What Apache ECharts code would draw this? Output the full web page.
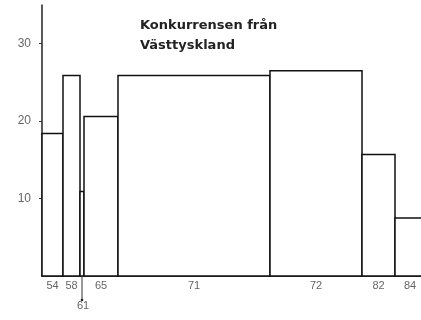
<!DOCTYPE html>
<html>
<head>
<meta charset="utf-8">
<script src="https://cdn.jsdelivr.net/npm/echarts@6/dist/echarts.min.js"></script>
<style>
  html, body { margin: 0; padding: 0; background: #fff; }
  #chart { width: 421px; height: 320px; }
</style>
</head>
<body>
<div id="chart"></div>
<script>
// Period labels, bar heights and the period boundaries along the x axis
const periods = ['54', '58', '61', '65', '71', '72', '82', '84'];
const values = [18.4, 25.9, 10.9, 20.6, 25.9, 26.5, 15.7, 7.5];
const edges = [0, 21, 38, 42, 76, 228, 320, 353, 383];
const yTicks = [0, 10, 20, 30];

const data = periods.map((p, i) => [edges[i], edges[i + 1], values[i], p]);

function renderItem(params, api) {
  const x0 = api.value(0), x1 = api.value(1), v = api.value(2);
  const base = api.coord([x0, 0]);
  const top = api.coord([x1, v]);
  const label = periods[params.dataIndex];
  const cx = (base[0] + top[0]) / 2;
  const narrow = top[0] - base[0] < 8;
  const children = [{
    type: 'rect',
    shape: { x: base[0], y: top[1], width: top[0] - base[0], height: base[1] - top[1] },
    style: { fill: '#fff', stroke: '#111', lineWidth: 1.5 }
  }];
  if (narrow) {
    // thin bar: the label hangs lower, with a pointer up to the axis
    children.push({
      type: 'line',
      shape: { x1: cx, y1: base[1], x2: cx, y2: base[1] + 24 },
      style: { stroke: '#333', lineWidth: 1 }
    });
    children.push({
      type: 'circle',
      shape: { cx: cx, cy: base[1] + 24, r: 1.3 },
      style: { fill: '#222' }
    });
    children.push({
      type: 'text',
      style: { x: cx + 1, y: base[1] + 24, text: label, textAlign: 'center', textVerticalAlign: 'top',
               fill: '#666', font: '11px "Liberation Sans", Arial, sans-serif' }
    });
  } else {
    children.push({
      type: 'text',
      style: { x: cx, y: base[1] + 4, text: label, textAlign: 'center', textVerticalAlign: 'top',
               fill: '#666', font: '11px "Liberation Sans", Arial, sans-serif' }
    });
  }
  return { type: 'group', children };
}

const chart = echarts.init(document.getElementById('chart'), null, { renderer: 'canvas' });
chart.setOption({
  animation: false,
  backgroundColor: '#fff',
  title: {
    text: 'Konkurrensen från\nVästtyskland',
    left: 135,
    top: 11,
    textStyle: {
      fontFamily: '"DejaVu Sans", Verdana, sans-serif',
      fontSize: 13,
      fontWeight: 'bold',
      color: '#222',
      lineHeight: 20
    }
  },
  grid: { left: 42, right: 0, top: 5, bottom: 44 },
  xAxis: {
    type: 'value',
    min: 0,
    max: 379,
    axisLine: { show: true, lineStyle: { color: '#444', width: 1.2 } },
    axisTick: { show: false },
    axisLabel: { show: false },
    splitLine: { show: false }
  },
  yAxis: {
    type: 'value',
    min: yTicks[0],
    max: 35,
    interval: 10,
    axisLine: { show: true, lineStyle: { color: '#222', width: 1.5 } },
    axisTick: { show: true, length: 3, lineStyle: { color: '#333' } },
    axisLabel: {
      showMinLabel: false,
      showMaxLabel: false,
      margin: 11,
      color: '#666',
      fontSize: 12,
      fontFamily: '"Liberation Sans", Arial, sans-serif'
    },
    splitLine: { show: false }
  },
  series: [{
    type: 'custom',
    renderItem: renderItem,
    clip: false,
    encode: { x: [0, 1], y: 2 },
    data: data
  }]
});
</script>
</body>
</html>
